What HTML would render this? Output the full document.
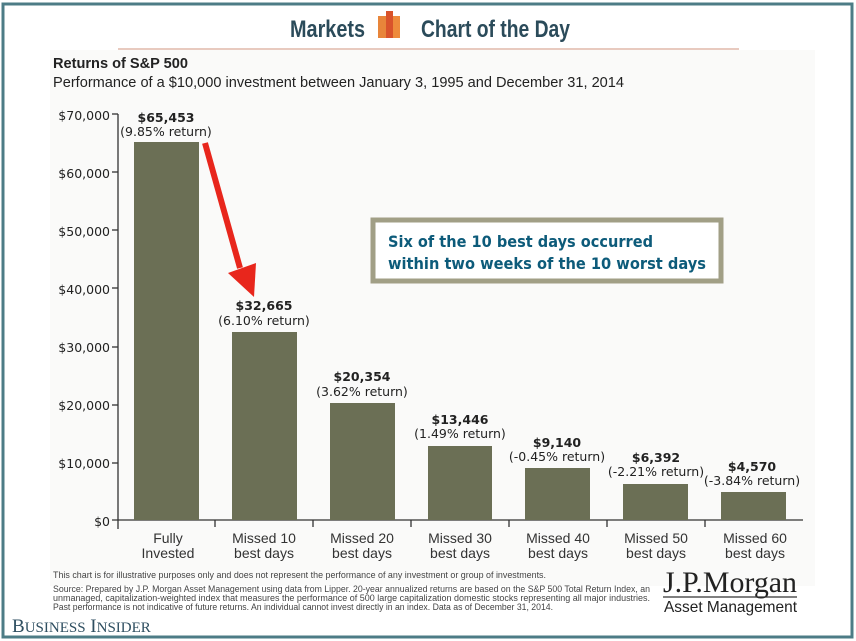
<!DOCTYPE html>
<html><head><meta charset="utf-8"><style>
body{margin:0;width:856px;height:641px;overflow:hidden;background:#fff;}
svg{display:block}
.n{font-family:"Liberation Sans",sans-serif;}
.s{font-family:"DejaVu Sans","Liberation Sans",sans-serif;}
</style></head><body>
<svg width="856" height="641" viewBox="0 0 856 641">
<rect x="0" y="0" width="856" height="641" fill="#fff"/>
<rect x="3" y="4" width="849" height="633" fill="none" stroke="#4d7c86" stroke-width="3"/>
<rect x="50" y="50" width="765" height="536" fill="#fafaf9"/>
<text x="290" y="37" class="n" font-size="24" font-weight="bold" fill="#2b4b5a" textLength="75" lengthAdjust="spacingAndGlyphs">Markets</text>
<rect x="378" y="16" width="8" height="22" fill="#e8853a"/>
<rect x="386" y="11" width="7" height="27" fill="#d9532b"/>
<rect x="393" y="16" width="7" height="22" fill="#ee8b3c"/>
<text x="421" y="37" class="n" font-size="24" font-weight="bold" fill="#2b4b5a" textLength="149" lengthAdjust="spacingAndGlyphs">Chart of the Day</text>
<line x1="118" y1="49" x2="739" y2="49" stroke="#e0b8aa" stroke-width="1.5"/>
<text x="53" y="68" class="n" font-size="15" font-weight="bold" fill="#222" textLength="135" lengthAdjust="spacingAndGlyphs">Returns of S&amp;P 500</text>
<text x="53" y="87" class="n" font-size="15" fill="#222" textLength="571" lengthAdjust="spacingAndGlyphs">Performance of a $10,000 investment between January 3, 1995 and December 31, 2014</text>
<g class="s" font-size="12.5" fill="#222" text-anchor="end">
<text x="110" y="120">$70,000</text><text x="110" y="178">$60,000</text><text x="110" y="236">$50,000</text>
<text x="110" y="294">$40,000</text><text x="110" y="352">$30,000</text><text x="110" y="410">$20,000</text>
<text x="110" y="468">$10,000</text><text x="110" y="526">$0</text>
</g>
<g stroke="#333" stroke-width="1.3">
<line x1="118" y1="114" x2="118" y2="529"/>
<line x1="112" y1="520" x2="803" y2="520"/>
<line x1="112" y1="114" x2="118" y2="114"/><line x1="112" y1="172" x2="118" y2="172"/>
<line x1="112" y1="230" x2="118" y2="230"/><line x1="112" y1="288" x2="118" y2="288"/>
<line x1="112" y1="347" x2="118" y2="347"/><line x1="112" y1="405" x2="118" y2="405"/>
<line x1="112" y1="463" x2="118" y2="463"/>
<line x1="215" y1="520" x2="215" y2="527"/><line x1="313" y1="520" x2="313" y2="527"/>
<line x1="411" y1="520" x2="411" y2="527"/><line x1="509" y1="520" x2="509" y2="527"/>
<line x1="607" y1="520" x2="607" y2="527"/><line x1="705" y1="520" x2="705" y2="527"/>
</g>
<g fill="#6b6f55">
<rect x="134" y="142" width="65" height="378"/>
<rect x="232" y="332" width="65" height="188"/>
<rect x="330" y="403" width="65" height="117"/>
<rect x="428" y="446" width="64" height="74"/>
<rect x="525" y="468" width="65" height="52"/>
<rect x="623" y="484" width="65" height="36"/>
<rect x="721" y="492" width="65" height="28"/>
</g>
<g class="s" font-size="12.5" fill="#222" text-anchor="middle">
<text x="166" y="122" font-weight="bold">$65,453</text><text x="166" y="136">(9.85% return)</text>
<text x="264" y="310" font-weight="bold">$32,665</text><text x="264" y="325">(6.10% return)</text>
<text x="362" y="381" font-weight="bold">$20,354</text><text x="362" y="396">(3.62% return)</text>
<text x="460" y="424" font-weight="bold">$13,446</text><text x="460" y="438">(1.49% return)</text>
<text x="557" y="447" font-weight="bold">$9,140</text><text x="557" y="461">(-0.45% return)</text>
<text x="656" y="462" font-weight="bold">$6,392</text><text x="656" y="476">(-2.21% return)</text>
<text x="752" y="471" font-weight="bold">$4,570</text><text x="752" y="485">(-3.84% return)</text>
</g>
<line x1="205" y1="143" x2="240" y2="268" stroke="#e8261c" stroke-width="6"/>
<polygon points="228,273 256,263 254,297" fill="#e8261c"/>
<rect x="373" y="220" width="348" height="61" fill="#fff" stroke="#a19f86" stroke-width="5"/>
<text x="388" y="247" class="s" font-size="16" font-weight="bold" fill="#0d5b7a" textLength="265" lengthAdjust="spacingAndGlyphs">Six of the 10 best days occurred</text>
<text x="388" y="269" class="s" font-size="16" font-weight="bold" fill="#0d5b7a" textLength="318" lengthAdjust="spacingAndGlyphs">within two weeks of the 10 worst days</text>
<g class="n" font-size="14" fill="#333" text-anchor="middle">
<text x="168" y="543">Fully</text><text x="168" y="558">Invested</text>
<text x="264" y="543">Missed 10</text><text x="264" y="558">best days</text>
<text x="362" y="543">Missed 20</text><text x="362" y="558">best days</text>
<text x="460" y="543">Missed 30</text><text x="460" y="558">best days</text>
<text x="558" y="543">Missed 40</text><text x="558" y="558">best days</text>
<text x="656" y="543">Missed 50</text><text x="656" y="558">best days</text>
<text x="755" y="543">Missed 60</text><text x="755" y="558">best days</text>
</g>
<g class="n" font-size="9" fill="#444" lengthAdjust="spacingAndGlyphs">
<text x="53" y="578" textLength="493" lengthAdjust="spacingAndGlyphs">This chart is for illustrative purposes only and does not represent the performance of any investment or group of investments.</text>
<text x="53" y="592" textLength="597" lengthAdjust="spacingAndGlyphs">Source: Prepared by J.P. Morgan Asset Management using data from Lipper. 20-year annualized returns are based on the S&amp;P 500 Total Return Index, an</text>
<text x="53" y="601" textLength="597" lengthAdjust="spacingAndGlyphs">unmanaged, capitalization-weighted index that measures the performance of 500 large capitalization domestic stocks representing all major industries.</text>
<text x="53" y="610" textLength="500" lengthAdjust="spacingAndGlyphs">Past performance is not indicative of future returns. An individual cannot invest directly in an index. Data as of December 31, 2014.</text>
</g>
<text x="663" y="592" font-family="Liberation Serif,serif" font-size="30" fill="#222" textLength="134" lengthAdjust="spacingAndGlyphs">J.P.Morgan</text>
<line x1="663" y1="597" x2="797" y2="597" stroke="#333" stroke-width="1.2"/>
<text x="664" y="612" class="n" font-size="16" fill="#222" textLength="133" lengthAdjust="spacingAndGlyphs">Asset Management</text>
<text x="12" y="632" font-family="Liberation Serif,serif" font-size="19" fill="#2e4e60">B<tspan font-size="15">USINESS</tspan> I<tspan font-size="15">NSIDER</tspan></text>
</svg>
</body></html>
